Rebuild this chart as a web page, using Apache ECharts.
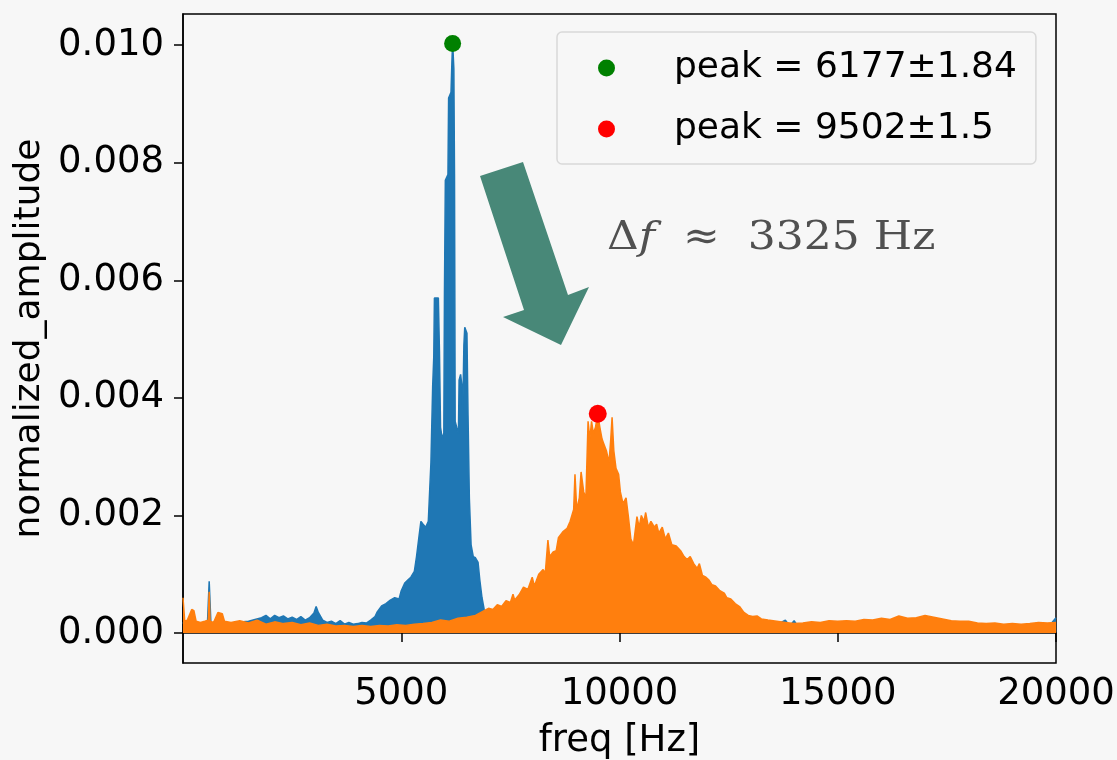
<!DOCTYPE html>
<html>
<head>
<meta charset="utf-8">
<script src="https://cdn.jsdelivr.net/npm/echarts@6/dist/echarts.min.js"></script>
<style>
html,body{margin:0;padding:0;background:#f7f7f7;}
#chart{width:1117px;height:760px;}
</style>
</head>
<body>
<div id="chart"></div>
<script>
// ---- data (freq in Hz, normalized amplitude) ----
const blueSpectrum = [
[0,0.00018],[60,0.0001],[150,0.00015],[300,0.00012],[450,0.00014],[560,0.00016],[600,0.00088],[640,0.00016],[800,0.00022],[1000,0.00016],[1200,0.00018],[1500,0.0002],[1800,0.00026],[1900,0.0003],[2000,0.00024],[2100,0.0003],[2200,0.00026],[2300,0.00029],[2400,0.00024],[2500,0.00027],[2600,0.00023],[2700,0.00028],[2800,0.00022],[2900,0.00026],[3000,0.00034],[3050,0.00045],[3100,0.00035],[3200,0.00022],[3300,0.00018],[3400,0.0002],[3500,0.00016],[3600,0.00021],[3700,0.00015],[3800,0.00018],[3900,0.00015],[4000,0.00016],[4100,0.00018],[4200,0.00017],[4300,0.00022],[4400,0.00028],[4450,0.00036],[4550,0.00046],[4650,0.0005],[4750,0.00056],[4850,0.0006],[4950,0.00058],[5000,0.00072],[5080,0.00085],[5150,0.0009],[5220,0.00095],[5300,0.00105],[5350,0.0013],[5400,0.0016],[5450,0.0019],[5500,0.00185],[5560,0.0018],[5620,0.0019],[5680,0.0029],[5720,0.0042],[5745,0.0047],[5760,0.0057],[5850,0.0057],[5875,0.0048],[5900,0.0035],[5940,0.0033],[5975,0.0034],[5990,0.0058],[6010,0.0077],[6070,0.0078],[6085,0.0091],[6140,0.0092],[6160,0.0097],[6177,0.01005],[6205,0.0096],[6220,0.0078],[6235,0.0036],[6270,0.0035],[6310,0.0034],[6325,0.0043],[6360,0.0044],[6390,0.0042],[6410,0.0038],[6435,0.0049],[6455,0.0052],[6505,0.0051],[6530,0.0037],[6560,0.0023],[6600,0.0015],[6650,0.0013],[6700,0.00128],[6760,0.0012],[6800,0.0009],[6850,0.0006],[6900,0.0004],[6960,0.0002],[7000,0.00008],[7500,0.00005],[8000,0.00006],[8500,0.00008],[9000,0.0001],[9500,0.00012],[10000,0.0001],[10500,0.00012],[11000,0.0001],[11500,0.00009],[12000,0.00008],[12500,0.00005],[13000,0.00006],[13500,0.0001],[13800,0.00022],[13900,0.00012],[14000,0.00021],[14100,0.0001],[14500,0.00005],[15000,0.00004],[16000,0.00004],[17000,0.00004],[18000,0.00004],[19000,0.00004],[19800,0.00008],[20000,0.00026]
];
const orangeSpectrum = [
[0,0.0006],[40,0.0002],[100,0.00022],[200,0.0004],[250,0.00038],[300,0.0002],[400,0.00018],[500,0.0002],[580,0.00022],[600,0.0007],[620,0.0002],[700,0.00018],[800,0.00035],[900,0.00033],[950,0.0002],[1100,0.00018],[1300,0.00021],[1500,0.00017],[1700,0.00022],[1900,0.00015],[2100,0.00019],[2300,0.00016],[2500,0.00018],[2700,0.00014],[2900,0.00017],[3100,0.00013],[3300,0.00015],[3500,0.00012],[3700,0.00013],[3900,0.00011],[4100,0.00013],[4300,0.00011],[4500,0.00013],[4700,0.00012],[4900,0.00014],[5100,0.00013],[5300,0.00015],[5500,0.00016],[5700,0.00018],[5900,0.00022],[6100,0.0002],[6300,0.00025],[6500,0.00027],[6700,0.0003],[6900,0.00038],[7000,0.00042],[7100,0.0004],[7200,0.00048],[7300,0.00045],[7400,0.00055],[7500,0.00052],[7560,0.00066],[7600,0.00056],[7700,0.00065],[7800,0.00078],[7900,0.00074],[8000,0.00095],[8050,0.0008],[8150,0.001],[8250,0.00108],[8300,0.00102],[8360,0.00158],[8400,0.0013],[8480,0.00138],[8550,0.0014],[8600,0.00162],[8700,0.00172],[8800,0.00178],[8870,0.0019],[8950,0.0021],[8980,0.0027],[9020,0.0021],[9080,0.0023],[9120,0.00274],[9180,0.0024],[9230,0.0023],[9280,0.0036],[9320,0.0033],[9360,0.0036],[9400,0.0034],[9450,0.0035],[9502,0.00373],[9550,0.0035],[9600,0.0033],[9650,0.0032],[9700,0.0031],[9760,0.0029],[9800,0.0033],[9830,0.00367],[9870,0.0031],[9920,0.0028],[9980,0.0027],[10020,0.0024],[10080,0.0022],[10150,0.0023],[10200,0.002],[10260,0.0016],[10320,0.0015],[10400,0.00198],[10450,0.0018],[10500,0.002],[10560,0.0019],[10600,0.00205],[10660,0.0018],[10720,0.0019],[10800,0.0018],[10850,0.00185],[10900,0.0017],[10980,0.0018],[11050,0.0016],[11120,0.0017],[11200,0.0015],[11300,0.00148],[11400,0.0014],[11480,0.0013],[11550,0.00125],[11620,0.0013],[11700,0.00118],[11780,0.0011],[11830,0.00118],[11900,0.00098],[11980,0.00095],[12050,0.0009],[12120,0.00082],[12200,0.0008],[12300,0.00072],[12400,0.00068],[12460,0.0006],[12550,0.00058],[12650,0.0005],[12750,0.00045],[12850,0.00035],[12950,0.0003],[13050,0.00028],[13150,0.00029],[13250,0.00024],[13400,0.00022],[13600,0.0002],[13800,0.00018],[14000,0.00016],[14200,0.00017],[14400,0.00019],[14600,0.00018],[14800,0.00021],[15000,0.0002],[15200,0.00021],[15400,0.0002],[15600,0.00023],[15800,0.00022],[16000,0.00025],[16200,0.00023],[16400,0.00029],[16600,0.00025],[16800,0.00026],[17000,0.0003],[17200,0.00027],[17400,0.00024],[17600,0.00021],[17800,0.0002],[18000,0.0002],[18200,0.00017],[18400,0.00016],[18600,0.00017],[18800,0.00015],[19000,0.00016],[19200,0.00015],[19400,0.00016],[19600,0.00018],[19800,0.00017],[20000,0.00018]
];
const peak1 = [6177, 0.01003];
const peak2 = [9502, 0.00373];
const peakLabels = ['peak = 6177±1.84', 'peak = 9502±1.5'];
const xTicks = [5000, 10000, 15000, 20000];
const yTicks = [0, 0.002, 0.004, 0.006, 0.008, 0.010];
const xName = 'freq [Hz]';
const yName = 'normalized_amplitude';

const chart = echarts.init(document.getElementById('chart'), null, {renderer: 'canvas'});
const FONT = 'DejaVu Sans';
const option = {
  backgroundColor: '#f7f7f7',
  animation: false,
  grid: {left: 183, right: 61, top: 14, bottom: 97, show: true, borderColor: '#000', borderWidth: 1.5,
         backgroundColor: '#f7f7f7', outerBoundsMode: 'none', containLabel: false},
  legend: {
    orient: 'vertical', left: 557, top: 32,
    data: peakLabels,
    icon: 'circle', itemWidth: 17, itemHeight: 17, itemGap: 21,
    padding: [16, 19, 15, 41],
    backgroundColor: '#f7f7f7', borderColor: '#d9d9d9', borderWidth: 1.5, borderRadius: 5,
    textStyle: {fontFamily: FONT, fontSize: 36, color: '#000', lineHeight: 40, padding: [0,0,0,54]}
  },
  xAxis: {
    type: 'value', min: 0, max: 20000,
    name: xName, nameLocation: 'middle', nameGap: 60,
    nameTextStyle: {fontFamily: FONT, fontSize: 37, color: '#000'},
    axisLine: {show: true, lineStyle: {color: '#000', width: 1.5}},
    axisTick: {show: true, inside: false, length: 9, customValues: xTicks, lineStyle: {color: '#000', width: 1.5}},
    axisLabel: {customValues: xTicks, fontFamily: FONT, fontSize: 37, color: '#000', margin: 13,
      formatter: v => String(Math.round(v))},
    splitLine: {show: false}
  },
  yAxis: {
    type: 'value', min: -0.00051, max: 0.01053,
    name: yName, nameLocation: 'middle', nameGap: 130,
    nameTextStyle: {fontFamily: FONT, fontSize: 36, color: '#000'},
    axisLine: {show: true, lineStyle: {color: '#000', width: 1.5}},
    axisTick: {show: true, inside: false, length: 9, customValues: yTicks, lineStyle: {color: '#000', width: 1.5}},
    axisLabel: {customValues: yTicks, fontFamily: FONT, fontSize: 37, color: '#000', margin: 19,
      formatter: v => v.toFixed(3)},
    splitLine: {show: false}
  },
  series: [
    {type: 'line', name: 'blue', data: blueSpectrum, symbol: 'none', sampling: 'none', z: 2,
     lineStyle: {color: '#1f77b4', width: 1.5}, areaStyle: {color: '#1f77b4', opacity: 1, origin: 0},
     itemStyle: {color: '#1f77b4'}},
    {type: 'line', name: 'orange', data: orangeSpectrum, symbol: 'none', sampling: 'none', z: 3,
     lineStyle: {color: '#ff7f0e', width: 1.5}, areaStyle: {color: '#ff7f0e', opacity: 1, origin: 0},
     itemStyle: {color: '#ff7f0e'}},
    {type: 'scatter', name: peakLabels[0], data: [peak1], symbolSize: 17, itemStyle: {color: '#008000', opacity: 1}, z: 5},
    {type: 'scatter', name: peakLabels[1], data: [peak2], symbolSize: 18, itemStyle: {color: '#ff0000', opacity: 1}, z: 5}
  ],
  graphic: [
    {type: 'polygon', z: 10,
     shape: {points: [[480,176],[523,162],[568,295],[589,287],[561,345],[503,317],[524,310]]},
     style: {fill: '#488878'}},
    {type: 'text', z: 10, x: 607, y: 219, scaleX: 1.1,
     style: {
       text: '{d|Δ}{f|f}  {s|≈}  {n|3325} {h|Hz}',
       rich: {
         d: {fontFamily: 'DejaVu Serif', fontSize: 40, fill: '#505050'},
         f: {fontFamily: 'DejaVu Serif', fontStyle: 'italic', fontSize: 40, fill: '#505050'},
         s: {fontFamily: 'DejaVu Serif', fontSize: 40, fill: '#505050'},
         n: {fontFamily: 'DejaVu Serif', fontSize: 40, fill: '#505050'},
         h: {fontFamily: 'DejaVu Serif', fontSize: 40, fill: '#505050'}
       },
       fontFamily: 'DejaVu Serif', fontSize: 40, fill: '#505050'
     }}
  ]
};
chart.setOption(option);
</script>
</body>
</html>
